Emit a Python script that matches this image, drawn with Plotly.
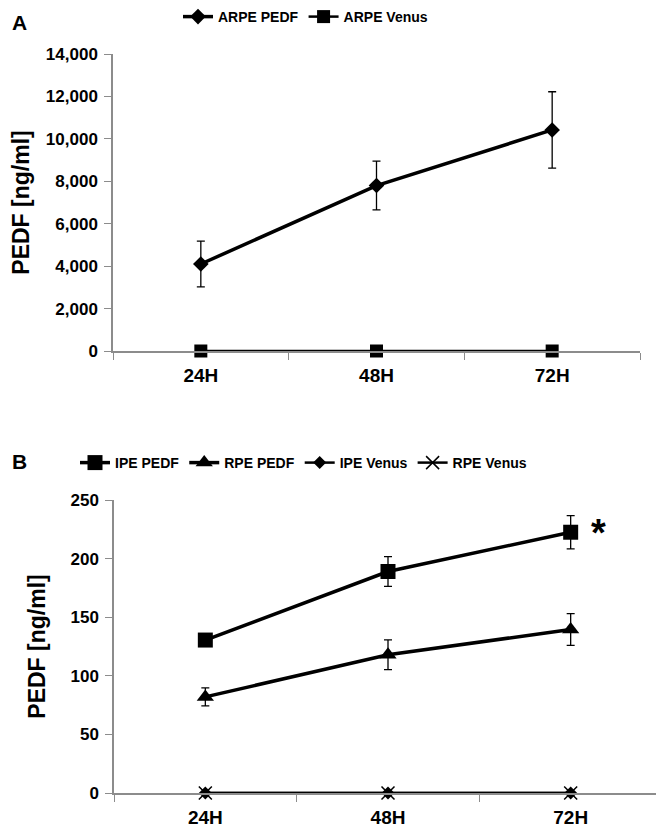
import plotly.graph_objects as go

categories = ["24H", "48H", "72H"]

# Panel A
arpe_pedf = [4100, 7800, 10420]
arpe_pedf_err = [1080, 1150, 1800]
arpe_venus = [0, 0, 0]

# Panel B
ipe_pedf = [130.5, 189, 222.5]
ipe_pedf_err = [0, 12.7, 14.2]
rpe_pedf = [82, 118, 139.5]
rpe_pedf_err = [7.7, 12.7, 13.5]
ipe_venus = [0, 0, 0]
rpe_venus = [0, 0, 0]

FONT = "Arial, 'Liberation Sans', sans-serif"
OFF = 8  # default page body margin
W, H = 664 - OFF, 827 - OFF

def px(x):
    return (x - OFF) / W

def py(y):
    return 1 - (y - OFF) / H

fig = go.Figure()

def err(vals):
    return dict(type="data", array=vals, visible=True, color="black", thickness=1.3, width=4)

fig.add_trace(go.Scatter(x=categories, y=arpe_pedf, name="ARPE PEDF", mode="lines+markers",
                         line=dict(color="black", width=3.5), marker=dict(symbol="diamond", size=12, color="black"),
                         error_y=err(arpe_pedf_err), xaxis="x", yaxis="y", legend="legend", cliponaxis=False))
fig.add_trace(go.Scatter(x=categories, y=arpe_venus, name="ARPE Venus", mode="lines+markers",
                         line=dict(color="black", width=2.5), marker=dict(symbol="square", size=13, color="black"),
                         xaxis="x", yaxis="y", legend="legend", cliponaxis=False))

fig.add_trace(go.Scatter(x=categories, y=ipe_pedf, name="IPE PEDF", mode="lines+markers",
                         line=dict(color="black", width=3.5), marker=dict(symbol="square", size=15, color="black"),
                         error_y=err(ipe_pedf_err), xaxis="x2", yaxis="y2", legend="legend2", cliponaxis=False))
fig.add_trace(go.Scatter(x=categories, y=rpe_pedf, name="RPE PEDF", mode="lines+markers",
                         line=dict(color="black", width=3.5), marker=dict(symbol="triangle-up", size=15, color="black"),
                         error_y=err(rpe_pedf_err), xaxis="x2", yaxis="y2", legend="legend2", cliponaxis=False))
fig.add_trace(go.Scatter(x=categories, y=ipe_venus, name="IPE Venus", mode="lines+markers",
                         line=dict(color="black", width=2.5), marker=dict(symbol="diamond", size=10, color="black"),
                         xaxis="x2", yaxis="y2", legend="legend2", cliponaxis=False))
fig.add_trace(go.Scatter(x=categories, y=rpe_venus, name="RPE Venus", mode="lines+markers",
                         line=dict(color="black", width=2.5),
                         marker=dict(symbol="x-thin", size=13, color="black", line=dict(color="black", width=1.5)),
                         xaxis="x2", yaxis="y2", legend="legend2", cliponaxis=False))

axis_common = dict(showgrid=False, zeroline=False, showline=True, linecolor="#8c8c8c", linewidth=1.5,
                   ticks="outside", tickcolor="#8c8c8c", tickwidth=1.2, ticklen=7)
ytick_font = dict(family=FONT, size=17, color="black", weight="bold")
xtick_font = dict(family=FONT, size=19, color="black", weight="bold")
title_font = dict(family=FONT, size=23, color="black", weight="bold")

xa = dict(axis_common, type="category", range=[-0.5, 2.5], tickson="boundaries",
          tickfont=xtick_font, ticklabelstandoff=6)
ya = dict(axis_common, tickfont=ytick_font, ticklabelstandoff=3)
fig.update_layout(
    width=W, height=H, margin=dict(l=0, r=0, t=0, b=0, autoexpand=False),
    plot_bgcolor="white", paper_bgcolor="white",
    font=dict(family=FONT, color="black"),
    xaxis=dict(xa, domain=[px(113), px(640)], anchor="y"),
    yaxis=dict(ya, domain=[py(351), py(54)], range=[0, 14000], dtick=2000,
               tickformat=",", anchor="x",
               title=dict(text="PEDF [ng/ml]", font=title_font, standoff=14)),
    xaxis2=dict(xa, domain=[px(114), px(662)], anchor="y2"),
    yaxis2=dict(ya, domain=[py(793), py(500)], range=[0, 250], dtick=50, anchor="x2",
                title=dict(text="PEDF [ng/ml]", font=title_font, standoff=18)),
    legend=dict(orientation="h", x=px(178), xanchor="left", y=py(17), yanchor="middle",
                font=dict(family=FONT, size=14, color="black", weight="bold"),
                bgcolor="rgba(0,0,0,0)"),
    legend2=dict(orientation="h", x=px(75), xanchor="left", y=py(463), yanchor="middle",
                 font=dict(family=FONT, size=14, color="black", weight="bold"),
                 bgcolor="rgba(0,0,0,0)"),
    annotations=[
        dict(text="A", x=px(10), y=py(9), xref="paper", yref="paper", xanchor="left", yanchor="top",
             showarrow=False, font=dict(family=FONT, size=21, color="black", weight="bold")),
        dict(text="B", x=px(10), y=py(461), xref="paper", yref="paper", xanchor="left", yanchor="middle",
             showarrow=False, font=dict(family=FONT, size=21, color="black", weight="bold")),
        dict(text="*", x=px(598), y=py(533), xref="paper", yref="paper", xanchor="center", yanchor="middle",
             showarrow=False, font=dict(family=FONT, size=38, color="black", weight="bold")),
    ],
)

fig.write_html("out.html")
